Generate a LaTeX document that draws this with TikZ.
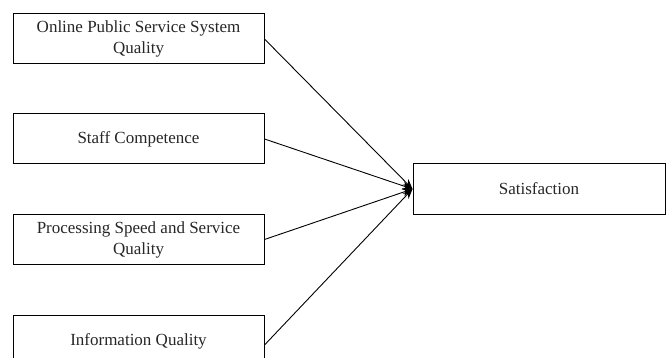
\documentclass[tikz,border=0pt]{standalone}
\usepackage{fontspec}
\setmainfont{Liberation Serif}
\usetikzlibrary{arrows.meta}
\begin{document}
\begin{tikzpicture}[x=1pt,y=-1pt,
  boxx/.style={draw,line width=1pt,minimum width=251pt,minimum height=50pt,align=center,inner sep=1pt,font=\fontsize{17}{21}\selectfont,text=black!85},
  arr/.style={line width=0.9pt,-{Stealth[length=10pt,width=8pt]}}]
\useasboundingbox (0,0) rectangle (666,358);
\node[boxx] (a) at (138.5,39) {Online Public Service System\\Quality};
\node[boxx] (b) at (138.5,139) {Staff Competence};
\node[boxx] (c) at (138.5,239.5) {Processing Speed and Service\\Quality};
\node[boxx,minimum height=52pt] (d) at (138.5,341) {Information Quality};
\node[boxx,minimum width=252pt] (s) at (539,189) {Satisfaction};
\draw[arr] (a.east) -- (s.west);
\draw[arr] (b.east) -- (s.west);
\draw[arr] (c.east) -- (s.west);
\draw[arr] ([yshift=-4pt]d.east) -- (s.west);
\end{tikzpicture}
\end{document}
